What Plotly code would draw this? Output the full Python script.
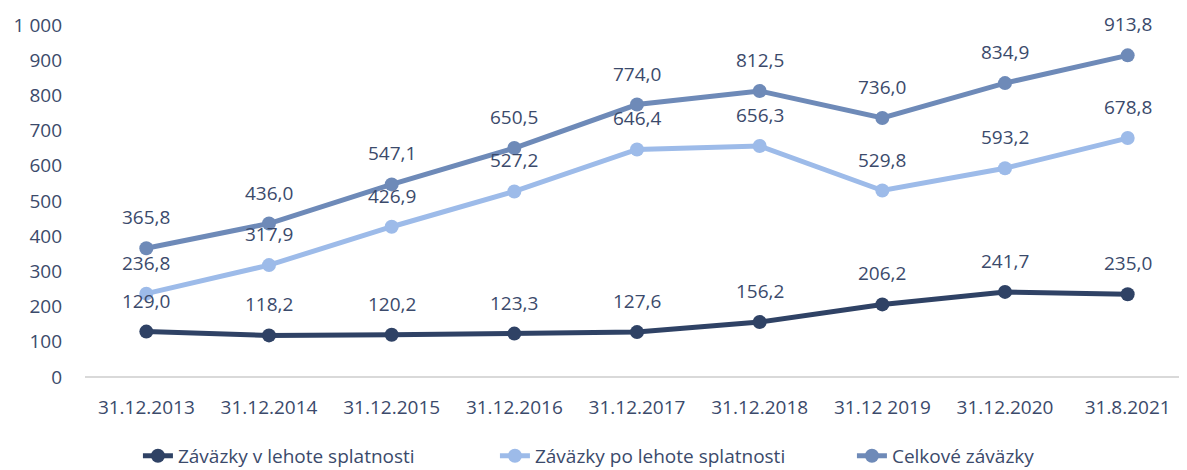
import plotly.graph_objects as go

dates = ["31.12.2013", "31.12.2014", "31.12.2015", "31.12.2016", "31.12.2017",
         "31.12.2018", "31.12 2019", "31.12.2020", "31.8.2021"]
v_lehote = [129.0, 118.2, 120.2, 123.3, 127.6, 156.2, 206.2, 241.7, 235.0]
po_lehote = [236.8, 317.9, 426.9, 527.2, 646.4, 656.3, 529.8, 593.2, 678.8]
celkove = [365.8, 436.0, 547.1, 650.5, 774.0, 812.5, 736.0, 834.9, 913.8]

series = [
    ("Záväzky v lehote splatnosti", v_lehote, "#2F4265"),
    ("Záväzky po lehote splatnosti", po_lehote, "#9DBBE9"),
    ("Celkové záväzky", celkove, "#6E8AB8"),
]

text_color = "#3B4A6B"
font = "Open Sans, Noto Sans, sans-serif"

fig = go.Figure()
for name, vals, color in series:
    fig.add_trace(go.Scatter(
        x=dates, y=vals, name=name, mode="lines+markers",
        line=dict(color=color, width=5),
        marker=dict(color=color, size=14),
    ))
    for d, v in zip(dates, vals):
        fig.add_annotation(
            x=d, y=v, text=f"{v:.1f}".replace(".", ","),
            showarrow=False, yshift=31,
            font=dict(size=19, color=text_color, family=font),
        )

# page body has an 8px margin, so the figure is offset by 8px
fig.update_layout(
    width=1187, height=470,
    plot_bgcolor="white", paper_bgcolor="white",
    font=dict(family=font, size=19, color=text_color),
    margin=dict(l=77, r=6, t=17, b=101, autoexpand=False),
    showlegend=True,
    legend=dict(orientation="h", x=0.533, xanchor="center",
                yref="container", y=0.047, yanchor="middle",
                font=dict(size=19, color=text_color),
                entrywidth=312, entrywidthmode="pixels",
                traceorder="normal"),
)
fig.update_xaxes(
    type="category", range=[-0.5, 8.5], showgrid=False, automargin=False,
    showline=False, ticks="", ticklabelstandoff=17,
    tickfont=dict(size=19, color=text_color),
)
fig.update_yaxes(
    range=[0, 1000], tickvals=[0, 100, 200, 300, 400, 500, 600, 700, 800, 900, 1000],
    ticktext=["0", "100", "200", "300", "400", "500", "600", "700", "800", "900", "1 000"],
    showgrid=False, zeroline=True, zerolinecolor="#D9D9D9", zerolinewidth=2,
    showline=False, ticks="", ticklabelstandoff=22, automargin=False,
    tickfont=dict(size=19, color=text_color),
)

fig.write_html("out.html")
